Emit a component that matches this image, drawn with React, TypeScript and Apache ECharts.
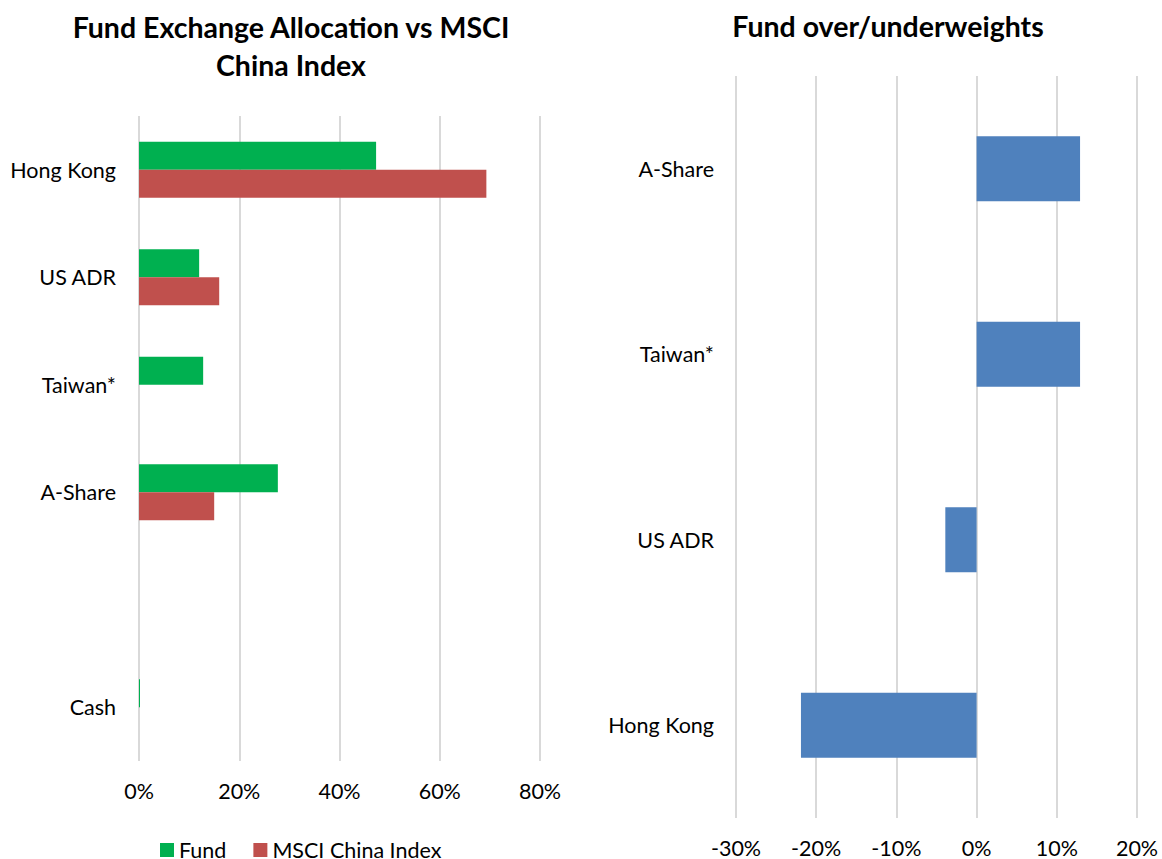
import React, { useEffect, useRef } from "react";
import * as echarts from "echarts";

const leftCategories = ["Hong Kong", "US ADR", "Taiwan*", "A-Share", "", "Cash"];
const fundValues = [47.3, 12.0, 12.8, 27.7, null, 0.2];
const msciValues = [69.3, 16.0, 0, 15.0, null, 0];

const rightCategories = ["Hong Kong", "US ADR", "Taiwan*", "A-Share"];
const diffValues = [-21.9, -3.9, 12.9, 12.9];

const FONT = "Lato, 'Open Sans', sans-serif";

export default function App() {
  const ref = useRef<HTMLDivElement>(null);
  useEffect(() => {
    if (!ref.current) return;
    const chart = echarts.init(ref.current, undefined, { renderer: "svg" });
    const labelStyle = { color: "#000", fontSize: 21.5, fontFamily: FONT };
    const titleStyle = {
      textAlign: "center",
      textVerticalAlign: "middle",
      fontSize: 28.5,
      fontWeight: "bold",
      fontFamily: FONT,
      fill: "#000",
    };
    chart.setOption({
      animation: false,
      textStyle: { fontFamily: FONT },
      graphic: [
        { type: "text", x: 291, y: 27, style: { ...titleStyle, text: "Fund Exchange Allocation vs MSCI" } },
        { type: "text", x: 291, y: 65, style: { ...titleStyle, text: "China Index" } },
        { type: "text", x: 888, y: 26, style: { ...titleStyle, text: "Fund over/underweights" } },
      ],
      legend: {
        left: 155,
        top: 834,
        icon: "rect",
        itemWidth: 14,
        itemHeight: 14,
        itemGap: 27,
        textStyle: labelStyle,
        data: ["Fund", "MSCI China Index"],
      },
      grid: [
        { left: 139, top: 116, width: 401, height: 645 },
        { left: 736, top: 76, width: 401, height: 746 },
      ],
      xAxis: [
        {
          gridIndex: 0,
          type: "value",
          min: 0,
          max: 80,
          interval: 20,
          axisLabel: { ...labelStyle, margin: 19, formatter: "{value}%" },
          axisLine: { show: false },
          axisTick: { show: false },
          splitLine: { lineStyle: { color: "#d9d9d9", width: 2 } },
        },
        {
          gridIndex: 1,
          type: "value",
          min: -30,
          max: 20,
          interval: 10,
          axisLabel: { ...labelStyle, margin: 19, formatter: "{value}%" },
          axisLine: { show: false },
          axisTick: { show: false },
          splitLine: { lineStyle: { color: "#d9d9d9", width: 2 } },
        },
      ],
      yAxis: [
        {
          gridIndex: 0,
          type: "category",
          inverse: true,
          data: leftCategories,
          axisLabel: { ...labelStyle, margin: 23 },
          axisLine: { show: false },
          axisTick: { show: false },
        },
        {
          gridIndex: 1,
          type: "category",
          data: rightCategories,
          axisLabel: { ...labelStyle, margin: 22 },
          axisLine: { show: false },
          axisTick: { show: false },
        },
      ],
      series: [
        {
          name: "Fund",
          type: "bar",
          xAxisIndex: 0,
          yAxisIndex: 0,
          data: fundValues,
          itemStyle: { color: "#00B050" },
          barGap: "0%",
          barCategoryGap: "48%",
        },
        {
          name: "MSCI China Index",
          type: "bar",
          xAxisIndex: 0,
          yAxisIndex: 0,
          data: msciValues,
          itemStyle: { color: "#C0504D" },
          barGap: "0%",
          barCategoryGap: "48%",
        },
        {
          name: "Over/underweight",
          type: "bar",
          xAxisIndex: 1,
          yAxisIndex: 1,
          data: diffValues,
          itemStyle: { color: "#4F81BD" },
          barCategoryGap: "65%",
        },
      ],
    });
    return () => chart.dispose();
  }, []);
  return (
    <div
      ref={ref}
      style={{ position: "fixed", left: 0, top: 0, width: 1162, height: 859, background: "#fff" }}
    />
  );
}
